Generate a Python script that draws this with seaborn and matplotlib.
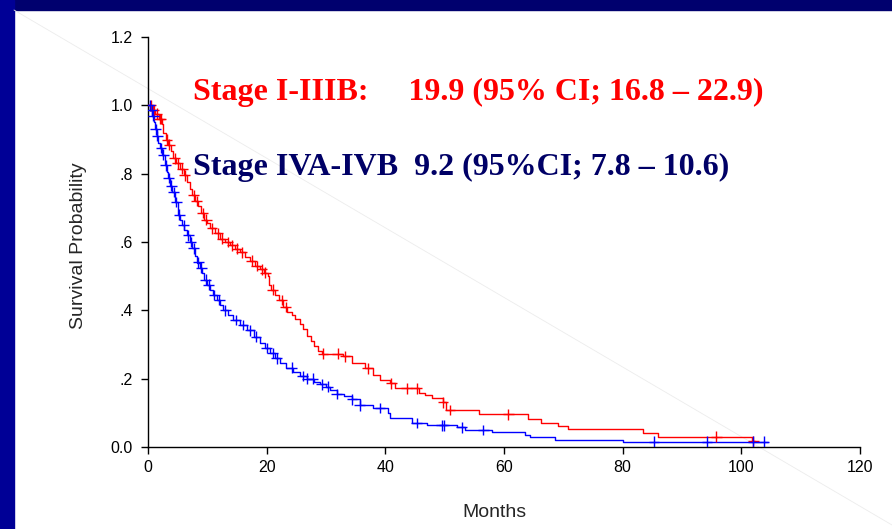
import numpy as np
import pandas as pd
import matplotlib
matplotlib.use("Agg")
import matplotlib.pyplot as plt
import seaborn as sns

# ---- data ----
red_t = [0, 0.8, 1.2, 1.8, 2.4, 2.6, 3.0, 3.4, 3.8, 4.2, 4.8, 5.4, 6.0, 6.5, 7.0, 7.4, 8.0, 8.5,
         9.0, 9.5, 10.0, 10.5, 11.3, 12.1, 13.0, 13.8, 14.6, 15.5, 16.3, 17.2, 18.0, 18.9, 19.5,
         20.2, 20.4, 20.8, 21.4, 22.0, 22.8, 23.5, 24.2, 24.8, 25.6, 26.2, 26.8, 27.5, 28.0, 28.7,
         29.3, 32.9, 34.4, 36.6, 38.0, 39.1, 40.8, 41.6, 45.6, 46.7, 47.9, 49.7, 50.3, 55.8, 64.0,
         66.2, 69.1, 70.8, 83.4, 86.0, 101.8, 102.3]
red_s = [1.0, 0.985, 0.975, 0.96, 0.945, 0.92, 0.90, 0.885, 0.865, 0.845, 0.83, 0.815, 0.795,
         0.775, 0.755, 0.737, 0.72, 0.705, 0.685, 0.665, 0.655, 0.64, 0.625, 0.61, 0.60, 0.59,
         0.58, 0.57, 0.555, 0.545, 0.53, 0.52, 0.51, 0.50, 0.475, 0.46, 0.445, 0.43, 0.41, 0.395,
         0.385, 0.375, 0.36, 0.345, 0.325, 0.31, 0.295, 0.28, 0.273, 0.265, 0.245, 0.23, 0.21,
         0.195, 0.186, 0.172, 0.157, 0.152, 0.143, 0.131, 0.108, 0.096, 0.082, 0.070, 0.062,
         0.053, 0.042, 0.030, 0.017, 0.017]
red_cens = [0.5, 1.0, 1.5, 2.0, 2.2, 3.2, 3.6, 4.5, 5.0, 5.8, 6.2, 7.7, 8.2, 9.2, 9.8, 10.8,
            11.8, 12.5, 13.4, 14.2, 15.0, 15.8, 17.5, 18.3, 19.2, 19.8, 21.0, 22.5, 23.2, 29.5,
            32.0, 33.2, 37.0, 41.0, 43.6, 45.3, 49.7, 50.9, 60.7, 95.8, 102.0]

blue_t = [0, 0.4, 0.7, 1.0, 1.2, 1.5, 1.7, 2.0, 2.4, 2.9, 3.2, 3.4, 3.7, 4.0, 4.6, 5.1, 5.4,
          5.7, 6.1, 6.5, 7.0, 7.4, 7.9, 8.3, 8.7, 9.1, 9.5, 10.0, 10.5, 11.0, 11.6, 12.2, 12.7,
          13.5, 14.4, 15.5, 16.7, 17.8, 18.9, 19.8, 20.6, 21.4, 22.2, 23.3, 24.4, 25.6, 26.8,
          28.0, 29.0, 30.0, 30.7, 31.8, 33.0, 34.4, 35.7, 38.0, 40.5, 40.8, 44.5, 47.0, 52.0,
          53.4, 58.0, 63.5, 64.4, 68.6, 80.0, 104.5]
blue_s = [1.0, 0.985, 0.97, 0.95, 0.93, 0.91, 0.89, 0.875, 0.855, 0.825, 0.805, 0.787, 0.765,
          0.746, 0.717, 0.68, 0.665, 0.65, 0.635, 0.62, 0.60, 0.582, 0.56, 0.54, 0.525, 0.51,
          0.49, 0.475, 0.459, 0.445, 0.43, 0.415, 0.40, 0.385, 0.372, 0.357, 0.342, 0.323, 0.304,
          0.29, 0.275, 0.26, 0.245, 0.232, 0.22, 0.208, 0.20, 0.19, 0.184, 0.176, 0.167, 0.155,
          0.148, 0.14, 0.122, 0.114, 0.099, 0.085, 0.07, 0.064, 0.058, 0.05, 0.043, 0.036,
          0.028, 0.021, 0.016, 0.016]
blue_cens = [0.3, 0.6, 0.9, 1.3, 1.6, 2.2, 2.6, 3.0, 3.5, 3.9, 4.3, 4.8, 5.3, 6.0, 6.8, 7.2,
             7.7, 8.5, 9.0, 9.7, 10.2, 11.2, 12.0, 13.0, 14.8, 16.0, 17.2, 18.2, 20.0, 21.0,
             21.7, 24.2, 26.1, 26.8, 27.8, 29.3, 30.3, 31.8, 34.4, 35.7, 39.1, 45.3, 49.5, 49.9,
             52.9, 56.5, 85.3, 94.2, 102.0, 103.8]

groups = ["Stage I-IIIB", "Stage IVA-IVB"]
x_ticks = [0, 20, 40, 60, 80, 100, 120]
y_ticks = [0.0, 0.2, 0.4, 0.6, 0.8, 1.0, 1.2]
y_tick_labels = ["0.0", ".2", ".4", ".6", ".8", "1.0", "1.2"]
red_label = "Stage I-IIIB:     19.9 (95% CI; 16.8 \u2013 22.9)"
blue_label = "Stage IVA-IVB  9.2 (95%CI; 7.8 \u2013 10.6)"

colors = {"Stage I-IIIB": "#ff0000", "Stage IVA-IVB": "#0000ff"}


def step_value(times, surv, t):
    idx = np.searchsorted(times, t, side="right") - 1
    return np.asarray(surv)[idx]


curves = pd.concat([
    pd.DataFrame({"time": red_t, "surv": red_s, "group": groups[0]}),
    pd.DataFrame({"time": blue_t, "surv": blue_s, "group": groups[1]}),
], ignore_index=True)
cens = pd.concat([
    pd.DataFrame({"time": red_cens, "surv": step_value(red_t, red_s, red_cens), "group": groups[0]}),
    pd.DataFrame({"time": blue_cens, "surv": step_value(blue_t, blue_s, blue_cens), "group": groups[1]}),
], ignore_index=True)

sns.set_style("white")
plt.rcParams["font.family"] = ["Liberation Sans", "DejaVu Sans"]

fig = plt.figure(figsize=(8.92, 5.29), dpi=100)
fig.patch.set_facecolor("white")

# navy slide frame + faint diagonal
fig.add_artist(plt.Rectangle((0, 1 - 10 / 529), 1, 10 / 529, transform=fig.transFigure,
                             color="#00006e", zorder=0))
fig.add_artist(plt.Rectangle((0, 0), 14 / 892, 1, transform=fig.transFigure,
                             color="#000096", zorder=0))
fig.add_artist(plt.Line2D([14 / 892, 1], [1 - 10 / 529, 1 - 525 / 529], transform=fig.transFigure,
                          color="#ececec", lw=0.6, zorder=0))

ax = fig.add_axes([148 / 892, 1 - 447 / 529, (860 - 148) / 892, (447 - 37) / 529])
ax.patch.set_alpha(0)

for g in groups:
    d = curves[curves.group == g]
    ax.step(d.time, d.surv, where="post", color=colors[g], lw=1.0, zorder=3)

sns.scatterplot(data=cens, x="time", y="surv", hue="group", palette=colors, marker="+",
                s=60, linewidth=1.0, legend=False, ax=ax, zorder=4)

ax.set_xlim(0, 120)
ax.set_ylim(0, 1.2)
ax.set_xticks(x_ticks)
ax.set_yticks(y_ticks)
ax.set_yticklabels(y_tick_labels)
ax.tick_params(axis="both", direction="out", length=5, width=1, labelsize=11.5, color="black",
               labelcolor="black", left=True, bottom=True)
ax.tick_params(axis="y", pad=6)
ax.tick_params(axis="x", pad=4)
for side in ["top", "right"]:
    ax.spines[side].set_visible(False)
for side in ["left", "bottom"]:
    ax.spines[side].set_color("black")
    ax.spines[side].set_linewidth(1)
ax.set_xlabel("Months", fontsize=14, labelpad=20)
ax.xaxis.set_label_coords(0.486, -0.138)
ax.set_ylabel("Survival Probability", fontsize=14, labelpad=20)
ax.yaxis.set_label_coords(-0.085, 0.49)

serif = ["Liberation Serif", "DejaVu Serif"]
ax.text(7.6, 1.015, red_label, color="#ff0000", fontsize=23, fontweight="bold",
        family=serif, va="baseline", ha="left")
ax.text(7.6, 0.795, blue_label, color="#000066", fontsize=23, fontweight="bold",
        family=serif, va="baseline", ha="left")

fig.savefig("out.png", dpi=100)
